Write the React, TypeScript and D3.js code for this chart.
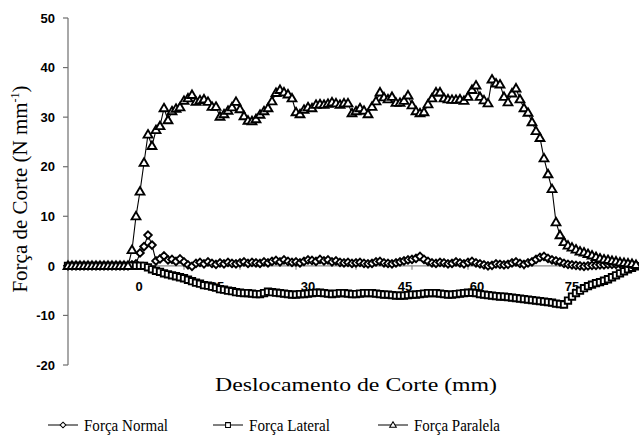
import React from "react";
import * as d3 from "d3";

// sample index along the cut (uniform sampling)
const forcaNormal: number[] = [
  0, 0, 0, 0, 0, 0, 0, 0, 0, 0, 0, 0, 0, 0, 0, 0, 0.2, 0.4, 2.6, 3.9,
  6.2, 4.2, 1.0, 1.4, 2.0, 1.2, 1.3, 0.9, 1.4, 0.8, 0.2, -0.1, 0.5, 0.7, 0.4, 0.8, 0.5, 0.3, 0.6, 0.4,
  0.7, 0.5, 0.4, 0.6, 0.8, 0.5, 0.7, 0.6, 0.5, 0.8, 0.6, 0.9, 1.1, 0.8, 1.2, 0.9, 0.7, 0.8, 0.6, 0.9,
  1.2, 1.1, 0.9, 1.3, 1.0, 1.2, 0.8, 1.0, 0.7, 0.6, 0.7, 0.5, 0.6, 0.7, 0.5, 0.4, 0.5, 0.8, 0.9, 0.6,
  0.5, 0.4, 0.6, 0.8, 1.0, 1.2, 1.3, 1.5, 1.9, 1.3, 0.9, 0.6, 0.5, 0.7, 0.6, 0.4, 0.5, 0.8, 0.6, 0.4,
  0.7, 0.9, 0.6, 0.4, 0.2, 0.0, 0.1, 0.4, 0.3, 0.2, 0.3, 0.6, 0.8, 0.5, 0.3, 0.6, 0.8, 1.3, 1.7, 1.9,
  1.5, 1.2, 1.0, 0.8, 0.5, 0.3, 0.2, 0.1, 0.0, -0.1, 0.0, 0.1, 0.1, 0.2, 0.2, 0.3, 0.3, 0.3, 0.4, 0.3,
  0.3, 0.3, 0.2,
];

const forcaLateral: number[] = [
  0, 0, 0, 0, 0, 0, 0, 0, 0, 0, 0, 0, 0, 0, 0, 0, 0, 0, 0, 0,
  -0.3, -0.7, -1.0, -1.2, -1.5, -1.7, -1.9, -2.1, -2.3, -2.5, -2.8, -3.1, -3.4, -3.6, -3.9, -4.0, -4.2, -4.4, -4.7, -4.8,
  -5.0, -5.1, -5.3, -5.4, -5.5, -5.5, -5.6, -5.7, -5.7, -5.5, -5.2, -5.3, -5.4, -5.5, -5.6, -5.7, -5.8, -5.8, -5.7, -5.7,
  -5.6, -5.5, -5.4, -5.4, -5.5, -5.6, -5.7, -5.6, -5.5, -5.5, -5.6, -5.7, -5.7, -5.6, -5.5, -5.5, -5.5, -5.6, -5.7, -5.8,
  -5.8, -5.9, -6.0, -6.0, -6.0, -5.9, -5.8, -5.8, -5.7, -5.6, -5.5, -5.5, -5.5, -5.6, -5.7, -5.8, -5.8, -5.7, -5.6, -5.5,
  -5.4, -5.4, -5.5, -5.7, -5.8, -5.9, -6.0, -6.1, -6.2, -6.2, -6.3, -6.4, -6.5, -6.6, -6.7, -6.8, -6.9, -7.0, -7.1, -7.2,
  -7.3, -7.4, -7.6, -7.7, -7.8, -7.0, -6.2, -5.5, -5.0, -4.5, -4.1, -3.8, -3.5, -3.3, -3.0, -2.7, -2.3, -1.9, -1.5, -1.1,
  -0.7, -0.4, -0.1,
];

const forcaParalela: number[] = [
  0, 0, 0, 0, 0, 0, 0, 0, 0, 0, 0, 0, 0, 0, 0, 0, 3.2, 10.0, 15.0, 20.8,
  26.5, 24.2, 27.4, 28.2, 31.8, 29.4, 31.2, 31.7, 32.0, 33.3, 33.8, 34.5, 33.1, 33.4, 33.6, 33.1, 32.1, 32.1, 30.1, 30.6,
  31.3, 32.0, 33.1, 31.6, 30.2, 29.3, 29.2, 29.6, 30.5, 31.2, 31.8, 33.2, 34.9, 35.5, 35.0, 34.6, 33.8, 31.0, 30.6, 31.5,
  32.0, 31.8, 32.5, 32.6, 32.5, 32.7, 33.0, 32.8, 32.5, 32.8, 32.8, 30.8, 31.2, 31.8, 31.3, 30.6, 32.1, 33.2, 35.0, 34.0,
  33.6, 34.1, 32.9, 32.9, 33.3, 34.4, 32.4, 31.2, 30.8, 31.0, 32.6, 33.8, 35.0, 35.0, 33.8, 33.6, 33.5, 33.5, 33.6, 33.3,
  34.1, 35.5, 36.4, 34.1, 33.4, 32.8, 37.6, 36.8, 36.6, 34.1, 33.0, 34.8, 35.8, 33.6, 31.8, 30.9, 29.0, 27.2, 25.8, 21.7,
  18.5, 15.5, 8.8, 6.2, 4.8, 4.1, 3.7, 3.3, 2.9, 2.7, 2.4, 2.1, 1.8, 1.5, 1.3, 1.2, 1.0, 0.9, 0.7, 0.6,
  0.5, 0.4, 0.2,
];

const yTicks: number[] = [-20, -10, 0, 10, 20, 30, 40, 50];
const xTickLabels: string[] = ["0", "15", "30", "45", "60", "75"];
const xTickLabelAt: number[] = [17.75, 37.25, 60, 84.25, 102.25, 126];
const xTickMarkAt: number[] = [1, 15, 29, 43, 57, 72, 86, 100, 114, 128];

const seriesNames: string[] = ["Força Normal", "Força Lateral", "Força Paralela"];

const W = 639;
const H = 438;

const diamond = "M0,-3.8L3.8,0L0,3.8L-3.8,0Z";
const square = "M-3.2,-3.2H3.2V3.2H-3.2Z";
const triangle = "M0,-4.4L4.4,3.1L-4.4,3.1Z";

export default function App() {
  const n = forcaNormal.length;
  const x = d3.scaleLinear().domain([0, n - 1]).range([68, 636]);
  const y = d3.scaleLinear().domain([-20, 50]).range([365, 18]);
  const line = d3
    .line<number>()
    .x((_, i) => x(i))
    .y((d) => y(d));

  const series = [
    { data: forcaNormal, marker: diamond },
    { data: forcaLateral, marker: square },
    { data: forcaParalela, marker: triangle },
  ];

  const legendX = [48, 213, 378];
  const legendTextLen = [84, 81, 86];

  return (
    <svg
      width={W}
      height={H}
      style={{ position: "absolute", left: 0, top: 0, background: "#fff" }}
    >
      <rect x={0} y={0} width={W} height={H} fill="#fff" />
      {/* Y axis */}
      <line x1={68} x2={68} y1={y(50)} y2={y(-20)} stroke="#6e6e6e" strokeWidth={1.2} />
      {yTicks.map((t) => (
        <g key={t}>
          <line x1={63} x2={68} y1={y(t)} y2={y(t)} stroke="#6e6e6e" strokeWidth={1.2} />
          <text
            x={55}
            y={y(t)}
            dy="0.36em"
            textAnchor="end"
            fontFamily="Liberation Sans, Arial, sans-serif"
            fontWeight="bold"
            fontSize={13}
            fill="#000"
          >
            {t}
          </text>
        </g>
      ))}
      {/* X axis at zero */}
      <line x1={68} x2={636} y1={y(0)} y2={y(0)} stroke="#8a8a8a" strokeWidth={1.2} />
      {xTickMarkAt.map((t, i) => (
        <line key={i} x1={x(t)} x2={x(t)} y1={y(0)} y2={y(0) + 4} stroke="#8a8a8a" strokeWidth={1.2} />
      ))}
      {xTickLabels.map((lab, i) => (
        <text
          key={lab}
          x={x(xTickLabelAt[i])}
          y={291}
          textAnchor="middle"
          fontFamily="Liberation Sans, Arial, sans-serif"
          fontWeight="bold"
          fontSize={13}
          fill="#000"
        >
          {lab}
        </text>
      ))}
      {/* series */}
      {series.map((s, si) => (
        <g key={si}>
          <path d={line(s.data) || ""} fill="none" stroke="#000" strokeWidth={1.1} />
          {s.data.map((v, i) => (
            <path
              key={i}
              d={s.marker}
              transform={`translate(${x(i)},${y(v)})`}
              fill="#fff"
              stroke="#000"
              strokeWidth={1.9}
            />
          ))}
        </g>
      ))}
      {/* Y title */}
      <text
        transform={`translate(27,${189}) rotate(-90)`}
        textAnchor="middle"
        fontFamily="Liberation Serif, Times New Roman, serif"
        fontSize={21}
        fill="#000"
      >
        Força de Corte (N mm
        <tspan dy={-8} fontSize={12}>-1</tspan>
        <tspan dy={8}>)</tspan>
      </text>
      {/* X title */}
      <text
        x={356}
        y={391}
        textAnchor="middle"
        fontFamily="Liberation Serif, Times New Roman, serif"
        fontSize={19}
        textLength={282}
        lengthAdjust="spacingAndGlyphs"
        fill="#000"
      >
        Deslocamento de Corte (mm)
      </text>
      {/* Legend */}
      {seriesNames.map((name, i) => (
        <g key={name}>
          <line x1={legendX[i]} x2={legendX[i] + 30} y1={425} y2={425} stroke="#000" strokeWidth={1} />
          <path
            d={series[i].marker}
            transform={`translate(${legendX[i] + 15},425) scale(0.75)`}
            fill="#fff"
            stroke="#000"
            strokeWidth={1.4}
          />
          <text
            x={legendX[i] + 36}
            y={431}
            fontFamily="Liberation Serif, Times New Roman, serif"
            fontSize={16}
            textLength={legendTextLen[i]}
            lengthAdjust="spacingAndGlyphs"
            fill="#000"
          >
            {name}
          </text>
        </g>
      ))}
    </svg>
  );
}
